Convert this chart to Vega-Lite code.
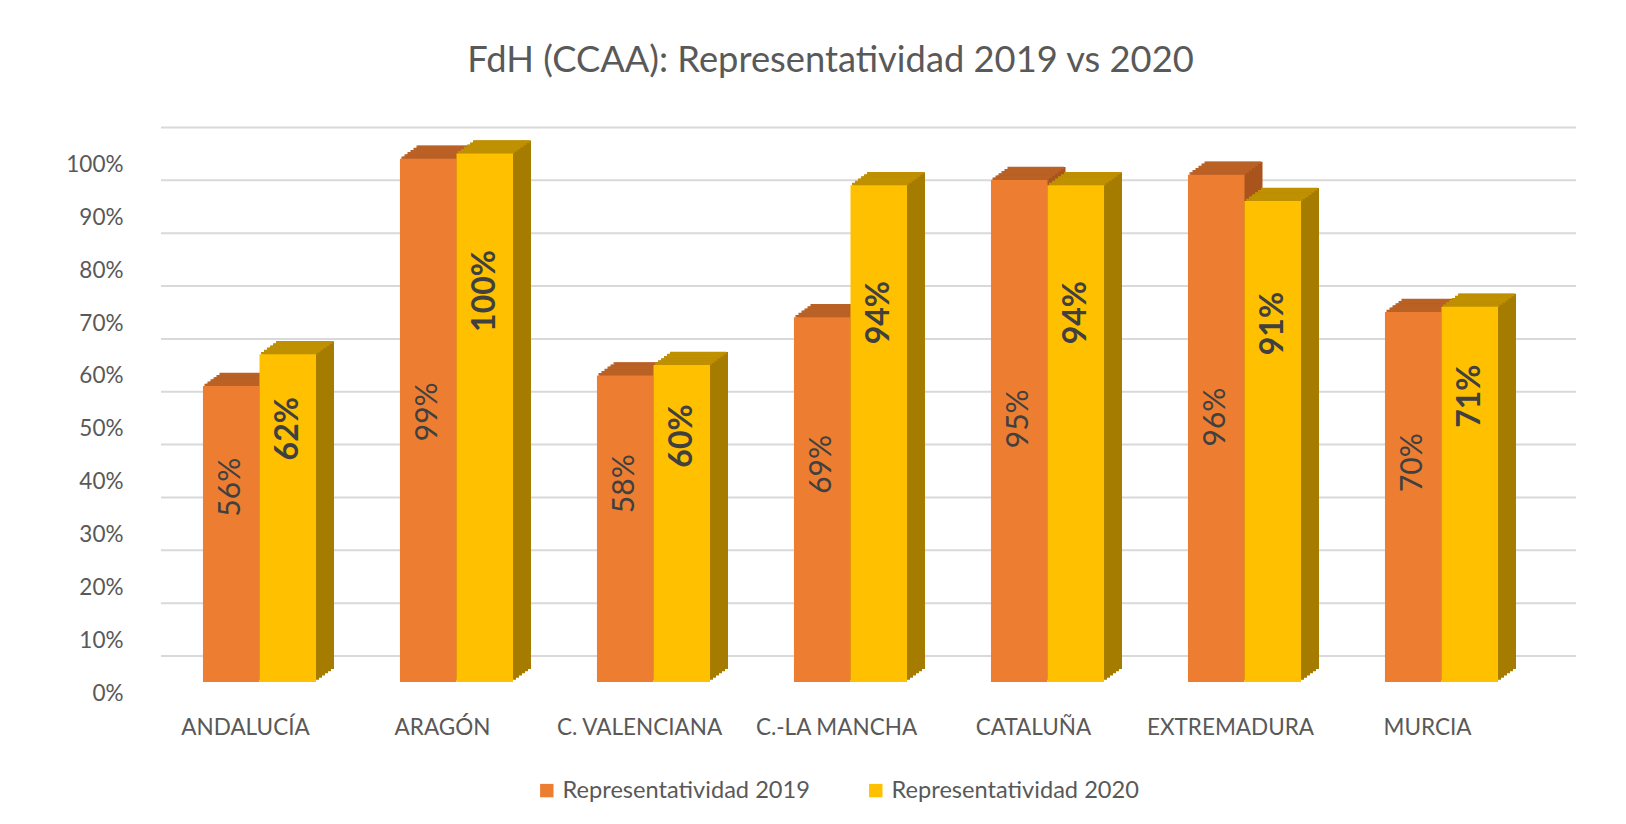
{
  "$schema": "https://vega.github.io/schema/vega-lite/v6.json",
  "width": 1379,
  "height": 528.5,
  "autosize": {"type": "none"},
  "padding": {"left": 161, "top": 153.5, "right": 86, "bottom": 142},
  "background": "white",
  "config": {
    "view": {"stroke": null},
    "font": "Lato",
    "legend": {"title": null, "symbolType": "square", "symbolSize": 180, "symbolStrokeWidth": 0, "labelFont": "Lato", "labelFontSize": 23.6, "labelColor": "#595959", "columnPadding": 54, "labelOffset": 4, "labelLimit": 400, "padding": 0}
  },
  "title": {"text": "FdH (CCAA): Representatividad 2019 vs 2020", "font": "Lato", "fontSize": 36.3, "fontWeight": "normal", "color": "#595959", "anchor": "middle", "frame": "group", "offset": 47, "dx": -20},
  "datasets": {
    "bars": [
      {"region": "ANDALUCÍA", "series": "Representatividad 2019", "value": 0.56},
      {"region": "ANDALUCÍA", "series": "Representatividad 2020", "value": 0.62},
      {"region": "ARAGÓN", "series": "Representatividad 2019", "value": 0.99},
      {"region": "ARAGÓN", "series": "Representatividad 2020", "value": 1.0},
      {"region": "C. VALENCIANA", "series": "Representatividad 2019", "value": 0.58},
      {"region": "C. VALENCIANA", "series": "Representatividad 2020", "value": 0.60},
      {"region": "C.-LA MANCHA", "series": "Representatividad 2019", "value": 0.69},
      {"region": "C.-LA MANCHA", "series": "Representatividad 2020", "value": 0.94},
      {"region": "CATALUÑA", "series": "Representatividad 2019", "value": 0.95},
      {"region": "CATALUÑA", "series": "Representatividad 2020", "value": 0.94},
      {"region": "EXTREMADURA", "series": "Representatividad 2019", "value": 0.96},
      {"region": "EXTREMADURA", "series": "Representatividad 2020", "value": 0.91},
      {"region": "MURCIA", "series": "Representatividad 2019", "value": 0.70},
      {"region": "MURCIA", "series": "Representatividad 2020", "value": 0.71}
    ],
    "grid": [
      {"pct": 0}, {"pct": 0.1}, {"pct": 0.2}, {"pct": 0.3}, {"pct": 0.4}, {"pct": 0.5},
      {"pct": 0.6}, {"pct": 0.7}, {"pct": 0.8}, {"pct": 0.9}, {"pct": 1.0}
    ]
  },
  "layer": [
    {
      "data": {"name": "grid"},
      "mark": {"type": "rule", "color": "#D9D9D9", "strokeWidth": 2, "xOffset": 36, "x2Offset": 36, "yOffset": -26},
      "encoding": {
        "y": {"field": "pct", "type": "quantitative", "scale": {"domain": [0, 1], "nice": false, "zero": false}, "axis": null}
      }
    },
    {
      "data": {"name": "bars"},
      "encoding": {
        "x": {"field": "region", "type": "nominal", "sort": null, "scale": {"paddingInner": 0.426, "paddingOuter": 0.213},
          "axis": {"title": null, "labelAngle": 0, "labelOffset": -14, "labelPadding": 34, "domain": false, "ticks": false, "grid": false, "labelFont": "Lato", "labelFontSize": 22.5, "labelColor": "#595959", "labelLimit": 300}},
        "y": {"field": "value", "type": "quantitative", "scale": {"domain": [0, 1], "nice": false},
          "axis": {"orient": "left", "title": null, "values": [0, 0.1, 0.2, 0.3, 0.4, 0.5, 0.6, 0.7, 0.8, 0.9, 1.0], "format": ".0%", "grid": false, "domain": false, "ticks": false, "labelPadding": 38, "labelOffset": 11, "labelFont": "Lato", "labelFontSize": 22.5, "labelColor": "#595959"}}
      },
      "layer": [
        {
          "transform": [{"filter": "datum.series === 'Representatividad 2019'"}],
          "layer": [
            {"mark": {"type": "bar", "color": "#A9541C", "width": 56.5, "xOffset": -10.25, "yOffset": -13, "y2Offset": -13}},
            {"mark": {"type": "bar", "color": "#A9541C", "width": 56.5, "xOffset": -13.25, "yOffset": -10.83, "y2Offset": -10.83}},
            {"mark": {"type": "bar", "color": "#A9541C", "width": 56.5, "xOffset": -16.25, "yOffset": -8.67, "y2Offset": -8.67}},
            {"mark": {"type": "bar", "color": "#A9541C", "width": 56.5, "xOffset": -19.25, "yOffset": -6.5, "y2Offset": -6.5}},
            {"mark": {"type": "bar", "color": "#A9541C", "width": 56.5, "xOffset": -22.25, "yOffset": -4.33, "y2Offset": -4.33}},
            {"mark": {"type": "bar", "color": "#A9541C", "width": 56.5, "xOffset": -25.25, "yOffset": -2.17, "y2Offset": -2.17}}
          ]
        },
        {
          "transform": [{"filter": "datum.series === 'Representatividad 2020'"}],
          "layer": [
            {"mark": {"type": "bar", "color": "#A67C00", "width": 56.5, "xOffset": 46.25, "yOffset": -13, "y2Offset": -13}},
            {"mark": {"type": "bar", "color": "#A67C00", "width": 56.5, "xOffset": 43.25, "yOffset": -10.83, "y2Offset": -10.83}},
            {"mark": {"type": "bar", "color": "#A67C00", "width": 56.5, "xOffset": 40.25, "yOffset": -8.67, "y2Offset": -8.67}},
            {"mark": {"type": "bar", "color": "#A67C00", "width": 56.5, "xOffset": 37.25, "yOffset": -6.5, "y2Offset": -6.5}},
            {"mark": {"type": "bar", "color": "#A67C00", "width": 56.5, "xOffset": 34.25, "yOffset": -4.33, "y2Offset": -4.33}},
            {"mark": {"type": "bar", "color": "#A67C00", "width": 56.5, "xOffset": 31.25, "yOffset": -2.17, "y2Offset": -2.17}}
          ]
        },
        {
          "transform": [{"filter": "datum.series === 'Representatividad 2019'"}],
          "layer": [
            {"mark": {"type": "tick", "orient": "horizontal", "color": "#BA6126", "opacity": 1, "size": 56.5, "thickness": 2.6, "xOffset": -26.75, "yOffset": -1.08}},
            {"mark": {"type": "tick", "orient": "horizontal", "color": "#BA6126", "opacity": 1, "size": 56.5, "thickness": 2.6, "xOffset": -23.75, "yOffset": -3.25}},
            {"mark": {"type": "tick", "orient": "horizontal", "color": "#BA6126", "opacity": 1, "size": 56.5, "thickness": 2.6, "xOffset": -20.75, "yOffset": -5.42}},
            {"mark": {"type": "tick", "orient": "horizontal", "color": "#BA6126", "opacity": 1, "size": 56.5, "thickness": 2.6, "xOffset": -17.75, "yOffset": -7.58}},
            {"mark": {"type": "tick", "orient": "horizontal", "color": "#BA6126", "opacity": 1, "size": 56.5, "thickness": 2.6, "xOffset": -14.75, "yOffset": -9.75}},
            {"mark": {"type": "tick", "orient": "horizontal", "color": "#BA6126", "opacity": 1, "size": 56.5, "thickness": 2.6, "xOffset": -11.75, "yOffset": -11.92}}
          ]
        },
        {
          "transform": [{"filter": "datum.series === 'Representatividad 2020'"}],
          "layer": [
            {"mark": {"type": "tick", "orient": "horizontal", "color": "#BF9000", "opacity": 1, "size": 56.5, "thickness": 2.6, "xOffset": 29.75, "yOffset": -1.08}},
            {"mark": {"type": "tick", "orient": "horizontal", "color": "#BF9000", "opacity": 1, "size": 56.5, "thickness": 2.6, "xOffset": 32.75, "yOffset": -3.25}},
            {"mark": {"type": "tick", "orient": "horizontal", "color": "#BF9000", "opacity": 1, "size": 56.5, "thickness": 2.6, "xOffset": 35.75, "yOffset": -5.42}},
            {"mark": {"type": "tick", "orient": "horizontal", "color": "#BF9000", "opacity": 1, "size": 56.5, "thickness": 2.6, "xOffset": 38.75, "yOffset": -7.58}},
            {"mark": {"type": "tick", "orient": "horizontal", "color": "#BF9000", "opacity": 1, "size": 56.5, "thickness": 2.6, "xOffset": 41.75, "yOffset": -9.75}},
            {"mark": {"type": "tick", "orient": "horizontal", "color": "#BF9000", "opacity": 1, "size": 56.5, "thickness": 2.6, "xOffset": 44.75, "yOffset": -11.92}}
          ]
        },
        {
          "mark": {"type": "bar"},
          "encoding": {
            "xOffset": {"field": "series", "type": "nominal", "scale": {"paddingInner": 0, "paddingOuter": 0}},
            "color": {"field": "series", "type": "nominal", "scale": {"domain": ["Representatividad 2019", "Representatividad 2020"], "range": ["#ED7D31", "#FFC000"]},
              "legend": {"orient": "none", "direction": "horizontal", "legendX": 374, "legendY": 625}}
          }
        }
      ]
    },
    {
      "data": {"name": "bars"},
      "transform": [{"filter": "datum.series === 'Representatividad 2019'"}],
      "mark": {"type": "text", "angle": 270, "align": "center", "baseline": "middle", "font": "Lato", "fontSize": 30, "color": "#404040"},
      "encoding": {
        "x": {"field": "region", "type": "nominal", "sort": null},
        "xOffset": {"field": "series", "type": "nominal"},
        "y": {"field": "value", "type": "quantitative", "scale": {"domain": [-0.55, 2.462], "nice": false, "zero": false}, "axis": null},
        "text": {"field": "value", "type": "quantitative", "format": ".0%"}
      }
    },
    {
      "data": {"name": "bars"},
      "transform": [{"filter": "datum.series === 'Representatividad 2020'"}],
      "mark": {"type": "text", "angle": 270, "align": "center", "baseline": "middle", "font": "Lato", "fontSize": 32, "fontWeight": "bold", "color": "#404040"},
      "encoding": {
        "x": {"field": "region", "type": "nominal", "sort": null},
        "xOffset": {"field": "series", "type": "nominal"},
        "y": {"field": "value", "type": "quantitative", "scale": {"domain": [-0.0785, 1.379], "nice": false, "zero": false}, "axis": null},
        "text": {"field": "value", "type": "quantitative", "format": ".0%"}
      }
    }
  ],
  "resolve": {"scale": {"y": "independent"}}
}
